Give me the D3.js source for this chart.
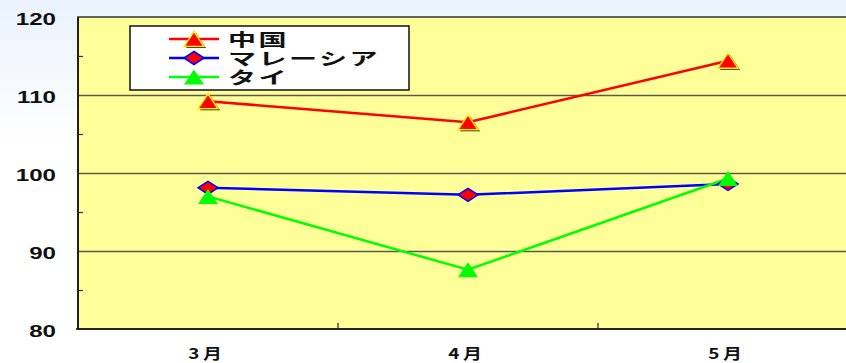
<!DOCTYPE html>
<html><head><meta charset="utf-8">
<script src="https://cdn.jsdelivr.net/npm/d3@7"></script>
<style>html,body{margin:0;padding:0;background:#fff;overflow:hidden}</style>
</head><body>
<svg id="chart" width="846" height="363"></svg>
<script>
const categories = ["3月", "4月", "5月"];
const chinaValues = [109.2, 106.5, 114.4];
const malaysiaValues = [98.1, 97.2, 98.6];
const thailandValues = [97.0, 87.6, 99.3];
const seriesNames = ["中国", "マレーシア", "タイ"];
const yTickLabels = [80, 90, 100, 110, 120];
const yMinorTicks = [85, 95, 105, 115];

const svg = d3.select("#chart");
const defs = svg.append("defs");
const grad = defs.append("linearGradient").attr("id","bg").attr("x1",0).attr("y1",0).attr("x2",0).attr("y2",1);
grad.append("stop").attr("offset","0%").attr("stop-color","#eaf3fd");
grad.append("stop").attr("offset","12%").attr("stop-color","#eff6fe");
grad.append("stop").attr("offset","40%").attr("stop-color","#ffffff");
grad.append("stop").attr("offset","100%").attr("stop-color","#ffffff");
svg.append("rect").attr("width",846).attr("height",363).attr("fill","url(#bg)");

const pLeft = 78, pRight = 858, pTop = 17, pBottom = 329;
const x = d3.scaleBand().domain(categories).range([pLeft, pRight]).padding(0);
const y = d3.scaleLinear().domain([80, 120]).range([pBottom, pTop]);

// plot area
svg.append("rect").attr("x", pLeft).attr("y", pTop).attr("width", pRight-pLeft).attr("height", pBottom-pTop)
  .attr("fill", "#ffff99").attr("stroke", "#333").attr("stroke-width", 1.5);

// gridlines
svg.append("g").attr("transform", `translate(${pLeft},0)`)
  .call(d3.axisLeft(y).tickValues([90,100,110]).tickSize(-(pRight-pLeft)).tickFormat(""))
  .call(g => g.select(".domain").remove())
  .call(g => g.selectAll("line").attr("stroke", "#5a5a50").attr("stroke-width", 1.3));

// minor ticks (inward)
svg.append("g").attr("transform", `translate(${pLeft},0)`)
  .call(d3.axisLeft(y).tickValues(yMinorTicks).tickSize(-5).tickFormat(""))
  .call(g => g.select(".domain").remove())
  .call(g => g.selectAll("line").attr("stroke", "#333").attr("stroke-width", 1.2));

// left axis line
svg.append("line").attr("x1", pLeft).attr("x2", pLeft).attr("y1", pTop).attr("y2", pBottom)
  .attr("stroke", "#111").attr("stroke-width", 1.6);
// bottom axis line
svg.append("line").attr("x1", pLeft-2).attr("x2", pRight).attr("y1", pBottom).attr("y2", pBottom)
  .attr("stroke", "#111").attr("stroke-width", 1.6);

// category boundary ticks (inward)
const boundaries = categories.slice(1).map(c => x(c));
svg.append("g").selectAll("line").data(boundaries).join("line")
  .attr("x1", d => d).attr("x2", d => d).attr("y1", pBottom).attr("y2", pBottom-6)
  .attr("stroke", "#222").attr("stroke-width", 1.2);

// y labels
svg.append("g").attr("transform", "translate(56,2)")
  .call(d3.axisLeft(y).tickValues(yTickLabels).tickSize(0).tickPadding(0))
  .call(g => g.select(".domain").remove())
  .call(g => g.selectAll("text").attr("x", 0)
     .attr("transform", "scale(1.42,1)")
     .attr("font-family", "'Liberation Sans', Arial, sans-serif")
     .attr("font-weight", "bold").attr("font-size", 17).attr("fill", "#111"));

// x labels
svg.append("g").selectAll("text").data(categories).join("text")
  .attr("transform", d => `translate(${x(d) + x.bandwidth()/2 - 1},359) scale(1.26,1)`)
  .attr("text-anchor", "middle")
  .attr("font-family", "'Noto Sans CJK JP', sans-serif")
  .attr("font-weight", "bold").attr("font-size", 15).attr("letter-spacing", "3px")
  .attr("fill", "#111").text(d => d);

const cx = d => x(d) + x.bandwidth()/2;
const series = [
  {name: seriesNames[0], values: chinaValues, color: "#ff0000", marker: "triRed"},
  {name: seriesNames[1], values: malaysiaValues, color: "#0000ff", marker: "diamond"},
  {name: seriesNames[2], values: thailandValues, color: "#00ff00", marker: "triGreen"}
];

const triPath = "M0,-7.5L10,7.5L-10,7.5Z";
const diaPath = "M0,-6.5L10,0L0,6.5L-10,0Z";
function drawMarker(g, type) {
  if (type === "triRed") {
    g.append("path").attr("d", triPath).attr("transform", "translate(2,1.5)").attr("fill", "#111");
    g.append("path").attr("d", triPath).attr("fill", "#ff0000").attr("stroke", "#ffee00").attr("stroke-width", 1.5);
  } else if (type === "diamond") {
    g.append("path").attr("d", diaPath).attr("fill", "#ff0000").attr("stroke", "#0000ff").attr("stroke-width", 1.5);
  } else {
    g.append("path").attr("d", triPath).attr("fill", "#00ff00");
  }
}

const line = d3.line().x((v, i) => cx(categories[i])).y(v => y(v));
series.forEach(s => {
  svg.append("path").attr("d", line(s.values)).attr("fill", "none")
    .attr("stroke", s.color).attr("stroke-width", 2.5);
});
series.forEach(s => {
  s.values.forEach((v, i) => {
    const g = svg.append("g").attr("transform", `translate(${cx(categories[i])},${y(v)})`);
    drawMarker(g, s.marker);
  });
});

// legend
const lg = svg.append("g");
lg.append("rect").attr("x", 130).attr("y", 26).attr("width", 279).attr("height", 64)
  .attr("fill", "#fff").attr("stroke", "#111").attr("stroke-width", 1.5);
const rowY = [39, 58, 77];
series.forEach((s, i) => {
  lg.append("line").attr("x1", 169).attr("x2", 219).attr("y1", rowY[i]).attr("y2", rowY[i])
    .attr("stroke", s.color).attr("stroke-width", 2.5);
  const g = lg.append("g").attr("transform", `translate(194,${rowY[i]})`);
  drawMarker(g, s.marker);
  lg.append("text").attr("transform", `translate(228,${rowY[i] + 7}) scale(1.65,1)`)
    .attr("font-family", "'Noto Sans CJK JP', sans-serif").attr("font-weight", "bold")
    .attr("font-size", 17).attr("letter-spacing", "1.5px").attr("fill", "#111").text(s.name);
});
</script>
</body></html>
